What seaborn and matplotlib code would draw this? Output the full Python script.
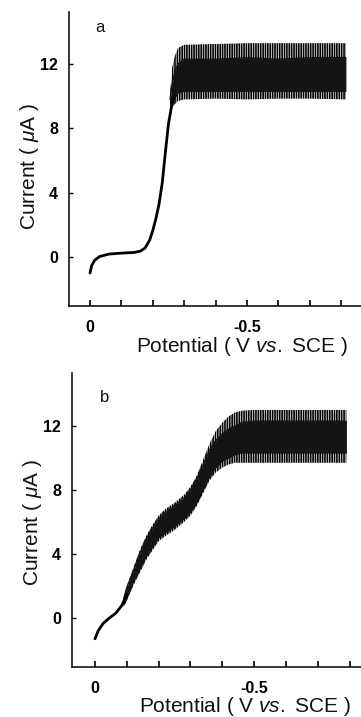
import numpy as np
import pandas as pd
import matplotlib
matplotlib.use("Agg")
import matplotlib.pyplot as plt
import seaborn as sns

# ---------------- data ----------------
# Panel a : smooth part of the polarogram
potential_a = [0.0, -0.005, -0.015, -0.03, -0.06, -0.10, -0.14, -0.16, -0.175,
               -0.19, -0.20, -0.21, -0.22, -0.23, -0.24, -0.25, -0.26, -0.27]
current_a = [-1.0, -0.55, -0.2, 0.02, 0.18, 0.24, 0.28, 0.36, 0.55,
             1.05, 1.65, 2.4, 3.3, 4.6, 6.5, 8.3, 9.4, 10.0]
# Panel a : oscillating limiting-current band
band_pot_a = [-0.255, -0.262, -0.27, -0.28, -0.30, -0.40, -0.50, -0.60, -0.70, -0.815]
band_top_a = [10.2, 11.8, 12.5, 13.0, 13.2, 13.25, 13.3, 13.3, 13.3, 13.3]
band_bot_a = [9.0, 9.3, 9.5, 9.7, 9.8, 9.85, 9.8, 9.85, 9.85, 9.8]
core_top_a = [9.8, 10.8, 11.5, 12.0, 12.3, 12.3, 12.4, 12.3, 12.4, 12.4]
core_bot_a = [9.3, 9.6, 9.9, 10.2, 10.3, 10.3, 10.3, 10.3, 10.3, 10.3]

# Panel b : smooth start
potential_b = [0.0, -0.01, -0.025, -0.045, -0.065, -0.085, -0.10]
current_b = [-1.3, -0.8, -0.35, 0.0, 0.3, 0.8, 1.5]
# Panel b : oscillating band
band_pot_b = [-0.09, -0.10, -0.12, -0.14, -0.16, -0.18, -0.20, -0.22, -0.25, -0.28,
              -0.30, -0.32, -0.34, -0.36, -0.38, -0.40, -0.42, -0.44, -0.46, -0.50,
              -0.60, -0.70, -0.79]
band_top_b = [1.3, 2.0, 3.1, 4.2, 5.1, 5.8, 6.4, 6.8, 7.2, 7.7,
              8.2, 8.9, 9.9, 10.9, 11.7, 12.2, 12.6, 12.85, 12.95, 13.0,
              13.0, 13.0, 13.0]
band_bot_b = [0.7, 1.1, 2.0, 2.8, 3.6, 4.2, 4.8, 5.1, 5.5, 6.0,
              6.4, 7.0, 7.8, 8.6, 9.1, 9.4, 9.6, 9.7, 9.7, 9.7,
              9.7, 9.7, 9.7]
core_top_b = [1.2, 1.9, 2.9, 4.0, 4.9, 5.6, 6.2, 6.6, 7.0, 7.5,
              8.0, 8.7, 9.6, 10.5, 11.1, 11.5, 11.8, 12.0, 12.2, 12.3,
              12.3, 12.3, 12.3]
core_bot_b = [0.8, 1.2, 2.2, 3.0, 3.8, 4.4, 5.0, 5.3, 5.7, 6.2,
              6.6, 7.2, 8.0, 8.8, 9.4, 9.8, 10.0, 10.2, 10.3, 10.3,
              10.3, 10.3, 10.3]

x_ticks = [0.0, -0.1, -0.2, -0.3, -0.4, -0.5, -0.6, -0.7, -0.8]
x_tick_labels = ["0", "", "", "", "", "-0.5", "", "", ""]
y_ticks = [0, 4, 8, 12]
y_tick_labels = ["0", "4", "8", "12"]
panel_labels = ["a", "b"]

# ---------------- style ----------------
sns.set_style("ticks")
plt.rcParams["font.family"] = ["Liberation Sans", "DejaVu Sans"]
plt.rcParams["mathtext.fontset"] = "custom"
plt.rcParams["mathtext.it"] = "Liberation Sans:italic"
plt.rcParams["mathtext.rm"] = "Liberation Sans"
plt.rcParams["hatch.linewidth"] = 1.2

fig = plt.figure(figsize=(3.61, 7.17), dpi=100)
axes_rects = [
    [69 / 361, 1 - 306 / 717, 1 - 69 / 361, 294 / 717],
    [72 / 361, 1 - 667 / 717, 1 - 72 / 361, 294 / 717],
]
xlims = [(0.0669, -0.8631), (0.0723, -0.836)]
ylims = [(-3.05, 15.24), (-3.06, 15.31)]
label_pos = [(0.106, 0.946), (0.111, 0.915)]
ylabel_pos = [(-0.134, 0.476), (-0.138, 0.493)]
xlabel_pos = [(0.592, -0.139), (0.60, -0.136)]

datasets = [
    (potential_a, current_a, band_pot_a, band_top_a, band_bot_a, core_top_a, core_bot_a),
    (potential_b, current_b, band_pot_b, band_top_b, band_bot_b, core_top_b, core_bot_b),
]

tick_font = dict(family=["Liberation Sans Narrow", "Liberation Sans"], weight="bold", size=11.5)

for i, (pot, cur, bp, bt, bb, ct, cb) in enumerate(datasets):
    ax = fig.add_axes(axes_rects[i])
    df = pd.DataFrame({"potential": pot, "current": cur})
    sns.lineplot(data=df, x="potential", y="current", ax=ax, color="black",
                 lw=2.0, sort=False, estimator=None)
    band = pd.DataFrame({"p": bp, "top": bt, "bot": bb, "ctop": ct, "cbot": cb})
    ax.fill_between(band["p"], band["bot"], band["top"], facecolor="white",
                    edgecolor="black", hatch="|||||||", linewidth=0)
    ax.fill_between(band["p"], band["cbot"], band["ctop"], color="#141414", linewidth=0)
    sns.lineplot(data=band, x="p", y="ctop", ax=ax, color="#141414", lw=1.0,
                 sort=False, estimator=None)

    ax.set_xlim(*xlims[i])
    ax.set_ylim(*ylims[i])
    sns.despine(ax=ax)
    for s in ["left", "bottom"]:
        ax.spines[s].set_linewidth(1.1)
        ax.spines[s].set_color("black")
    ax.set_xticks(x_ticks)
    ax.set_xticklabels(x_tick_labels, **tick_font)
    ax.set_yticks(y_ticks)
    ax.set_yticklabels(y_tick_labels, **tick_font)
    ax.tick_params(axis="x", direction="in", length=4, width=1.2, pad=10, colors="black")
    ax.tick_params(axis="y", direction="in", length=3, width=1.0, pad=8, colors="black")

    ax.set_xlabel("Potential ( V $vs.$ SCE )", fontsize=15, color="#111")
    ax.xaxis.set_label_coords(*xlabel_pos[i])
    ax.xaxis.label.set_va("center")
    ax.set_ylabel("Current ( $\\mu$A )", fontsize=15, color="#111")
    ax.yaxis.set_label_coords(*ylabel_pos[i])
    ax.yaxis.label.set_va("center")
    ax.text(*label_pos[i], panel_labels[i], transform=ax.transAxes, fontsize=12,
            ha="center", va="center", color="#111")

fig.savefig("out.png", dpi=100)
